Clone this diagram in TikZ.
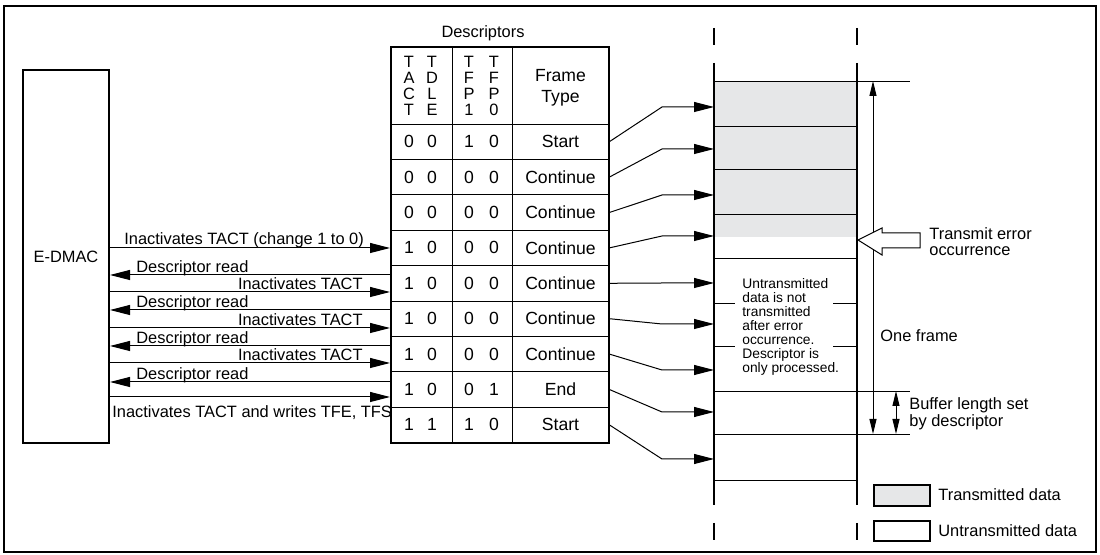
\documentclass[tikz,border=0pt]{standalone}
\usepackage{fontspec}
\setmainfont{Liberation Sans}
\usetikzlibrary{arrows.meta, calc}
\definecolor{SentGray}{HTML}{E6E7E8}

\begin{document}
\begin{tikzpicture}[x=0.5pt, y=-0.5pt,
  font=\fontsize{8.2}{9}\selectfont,
  arr/.style={-{Triangle[length=10pt,width=5pt]}, line width=0.5pt},
  rarr/.style={{Triangle[length=10pt,width=5pt]}-, line width=0.5pt},
  vtip/.style={{Triangle[length=7.5pt,width=3.5pt]}-{Triangle[length=7.5pt,width=3.5pt]}, line width=0.5pt},
  cell/.style={inner sep=0pt, font=\fontsize{8.8}{10}\selectfont},
  lbl/.style={inner sep=0pt}]

  \useasboundingbox (0,0) rectangle (1100,555);
  \draw[line width=1pt] (4,6) rectangle (1096,552);

  % E-DMAC
  \node[draw, line width=1pt, minimum width=43pt, minimum height=186.5pt, inner sep=0pt] (edmac) at (66,256.5) {E-DMAC};

  % descriptor table
  \node[draw, line width=1pt, minimum width=109pt, minimum height=198pt, inner sep=0pt] (desc) at (500,245) {};
  \node[lbl] (desctitle) at (483,33) {Descriptors};
  \draw (452,47) -- (452,443);
  \draw (512,47) -- (512,443);
  \foreach \i in {0,...,8}
    \draw (391,{124+35.4*\i}) -- (609,{124+35.4*\i});
  \foreach \x/\a/\b/\c/\d [count=\h] in {409/T/A/C/T, 432/T/D/L/E, 469/T/F/P/1, 494/T/F/P/0}
    \node[lbl, align=center, font=\fontsize{8.2}{7.9}\selectfont] (hd\h) at (\x,86) {\a\\\b\\\c\\\d};
  \node[cell, align=center, font=\fontsize{8.8}{10.5}\selectfont] (fthead) at (560.5,88) {Frame\\Type};

  % light grey = transmitted part of the buffers
  \fill[SentGray] (714,81) rectangle (857,237);

  \foreach \a/\b/\c/\d/\t/\ty [count=\i] in {0/0/1/0/Start/107, 0/0/0/0/Continue/149,
      0/0/0/0/Continue/195, 1/0/0/0/Continue/236, 1/0/0/0/Continue/283, 1/0/0/0/Continue/324,
      1/0/0/0/Continue/370, 1/0/0/1/End/412, 1/1/1/0/Start/459} {
    \pgfmathsetmacro\ry{124+35.4*(\i-0.5)}
    \node[cell] (ta\i) at (409,\ry) {\a};
    \node[cell] (td\i) at (432,\ry) {\b};
    \node[cell] (fa\i) at (469,\ry) {\c};
    \node[cell] (fb\i) at (494,\ry) {\d};
    \node[cell, minimum width=48.5pt, minimum height=17.7pt] (ft\i) at (560.5,\ry) {\t};
    \coordinate (bend\i) at (662,\ty);
    \coordinate (buf\i) at (714,\ty);
    \draw[arr] (ft\i.east) -- (bend\i) -- (buf\i);
  }

  % buffers
  \foreach \y in {126,169,214,258,480}
    \draw (714,\y) -- (857,\y);
  \foreach \y in {81,391,434}
    \draw (714,\y) -- (910,\y);
  \foreach \y in {303,346} {
    \draw (714,\y) -- (735,\y);
    \draw (833,\y) -- (857,\y);
  }
  \foreach \x in {714,857} {
    \draw[line width=1pt] (\x,63) -- (\x,505);
    \draw[line width=1pt] (\x,28) -- (\x,45);
    \draw[line width=1pt] (\x,523) -- (\x,540);
  }
  \node[lbl, anchor=north west, align=left, font=\fontsize{6.9}{7}\selectfont] (note) at (742,278)
    {Untransmitted\\data is not\\transmitted\\after error\\occurrence.\\Descriptor is\\only processed.};

  % E-DMAC <-> descriptors
  \draw[arr] (edmac.east |- 0,248) -- (desc.west |- 0,248);
  \node[lbl, anchor=base west] (firstina) at (124,245) {Inactivates TACT (change 1 to 0)};
  \foreach \y [count=\k] in {275,310,346,382} {
    \draw[rarr] (edmac.east |- 0,\y) -- (desc.west |- 0,\y);
    \node[lbl, anchor=base west] (rd\k) at (136,\y-2.5) {Descriptor read};
  }
  \foreach \y [count=\k] in {292,328,363} {
    \draw[arr] (edmac.east |- 0,\y) -- (desc.west |- 0,\y);
    \node[lbl, anchor=base east] (ina\k) at (363,\y-2.5) {Inactivates TACT};
  }
  \draw[arr] (edmac.east |- 0,397) -- (desc.west |- 0,397);
  \node[lbl, anchor=base west] (lastina) at (112,418) {Inactivates TACT and writes TFE, TFS};

  % frame / buffer length
  \coordinate (ftop) at (873,81);
  \coordinate (fbot) at (873,434);
  \draw[vtip] (ftop) -- (fbot);
  \node[lbl, anchor=west] (oneframe) at (880,336) {One frame};
  \coordinate (btop) at (896,391);
  \coordinate (bbot) at (896,434);
  \draw[vtip] (btop) -- (bbot);
  \node[lbl, anchor=west, align=left, font=\fontsize{8.2}{7.5}\selectfont] (buflen) at (909,414) {Buffer length set\\by descriptor};

  % error pointer
  \draw[fill=white, line width=0.5pt] (858,240) -- (882,228) -- (882,233) -- (920,233)
    -- (920,248) -- (882,248) -- (882,255) -- cycle;
  \node[lbl, anchor=west, align=left, font=\fontsize{8.2}{8}\selectfont] (txerr) at (929,242) {Transmit error\\occurrence};

  % legend
  \draw[fill=SentGray, line width=1pt] (874,485) rectangle (930,506);
  \node[lbl, anchor=west] (legsent) at (938,495) {Transmitted data};
  \draw[line width=1pt] (874,521) rectangle (930,541);
  \node[lbl, anchor=west] (legunsent) at (938,531) {Untransmitted data};
\end{tikzpicture}
\end{document}
